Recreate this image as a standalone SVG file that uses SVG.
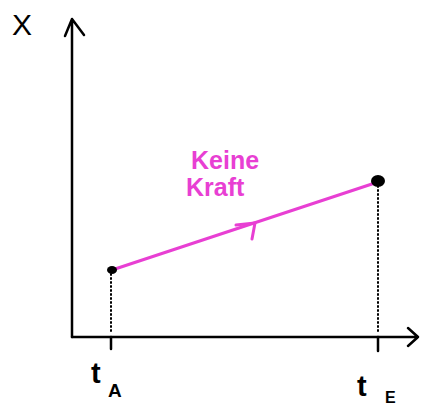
<svg xmlns="http://www.w3.org/2000/svg" width="421" height="406" viewBox="0 0 421 406">
<style>
.ax{stroke:#000;stroke-width:2.5;fill:none;stroke-linecap:round;stroke-linejoin:round}
.dot{stroke:#000;stroke-width:2;stroke-dasharray:1 3;stroke-linecap:round;fill:none}
.mg{stroke:#e83fd3;stroke-width:3;fill:none;stroke-linecap:round;stroke-linejoin:round}
.lbl{font-family:"Liberation Sans",sans-serif;fill:#000;font-weight:bold}
.mt{font-family:"Liberation Sans",sans-serif;fill:#e83fd3;font-size:25px;font-weight:bold}
</style>
<rect width="421" height="406" fill="#fff"/>
<g id="axes">
<path class="ax" d="M72,337 V19 M65,36 L72,19 L84,35"/>
<path class="ax" d="M72,337 H418 M408,328 L418,337 L408,346"/>
<path class="ax" d="M111,337 V349 M378,337 V351"/>
</g>
<g id="connectors">
<path class="dot" d="M111,274 V333"/>
<path class="dot" d="M378,186 V333"/>
<path class="mg" d="M112,270 L378,182"/>
<path class="mg" d="M236,225 L255,223 L252,239"/>
</g>
<g id="pointA"><ellipse cx="112" cy="270" rx="5" ry="4" fill="#000"/></g>
<g id="pointE"><ellipse cx="378" cy="181" rx="7" ry="6" fill="#000"/></g>
<g id="labels">
<text class="lbl" x="22" y="35" font-size="30" style="font-weight:normal" text-anchor="middle">X</text>
<text class="lbl" x="91" y="383" font-size="29">t</text>
<text class="lbl" x="108" y="397" font-size="19">A</text>
<text class="lbl" x="357" y="396" font-size="29">t</text>
<text class="lbl" x="385" y="403" font-size="16">E</text>
<text class="mt" x="191" y="169">Keine</text>
<text class="mt" x="186" y="196">Kraft</text>
</g>
</svg>
